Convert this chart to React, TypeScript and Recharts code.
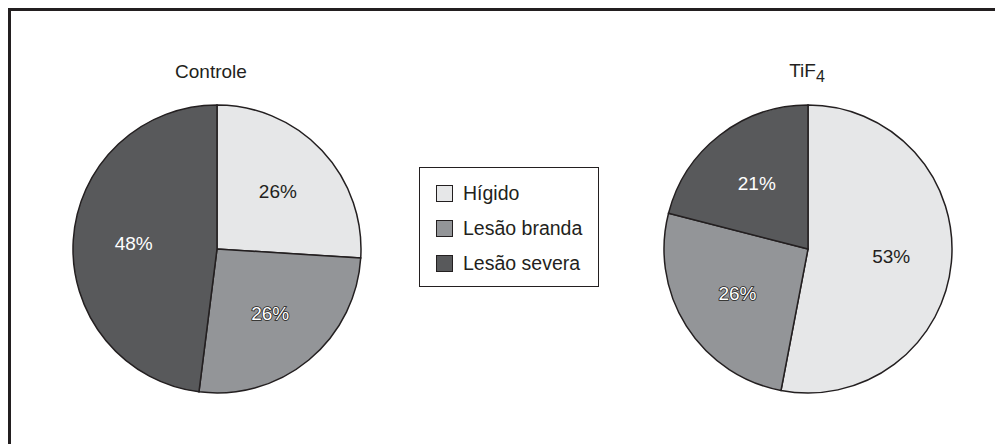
import React from 'react';
import { PieChart, Pie, Cell, Legend, Customized } from 'recharts';

const categories = ['Hígido', 'Lesão branda', 'Lesão severa'];
const controleValues = [26, 26, 48];
const tif4Values = [53, 26, 21];

const sliceColors = ['#e6e7e8', '#939598', '#58595b'];
const ink = '#231f20';
const font = '"Liberation Sans", Arial, Helvetica, sans-serif';

const controleData = categories.map((name, i) => ({ name, value: controleValues[i] }));
const tif4Data = categories.map((name, i) => ({ name, value: tif4Values[i] }));

const RADIAN = Math.PI / 180;

// percentage inside each slice; light slice gets dark text, mid grey gets outlined white
const renderLabel = (props: any) => {
  const { cx, cy, midAngle, outerRadius, value, index } = props;
  const r = outerRadius * 0.58;
  const x = cx + r * Math.cos(-midAngle * RADIAN);
  const y = cy + r * Math.sin(-midAngle * RADIAN);
  const outlined = index === 1;
  return (
    <text
      x={x}
      y={y}
      textAnchor="middle"
      dominantBaseline="central"
      fontFamily={font}
      fontSize={19}
      fill={index === 0 ? ink : '#ffffff'}
      stroke={outlined ? ink : 'none'}
      strokeWidth={outlined ? 1.6 : 0}
      paintOrder="stroke"
    >
      {`${value}%`}
    </text>
  );
};

const Titles = () => (
  <g fontFamily={font} fill={ink}>
    <text x={203} y={70} fontSize={19} textAnchor="middle">Controle</text>
    <text x={799} y={69} fontSize={19} textAnchor="middle">
      TiF<tspan fontSize={16} dy={5}>4</tspan>
    </text>
  </g>
);

const LegendBox = () => (
  <div
    style={{
      position: 'relative',
      width: 180,
      height: 120,
      border: `1.5px solid ${ink}`,
      boxSizing: 'border-box',
      fontFamily: font,
      fontSize: 19.5,
      color: ink,
      background: '#fff',
    }}
  >
    {categories.map((name, i) => (
      <div
        key={name}
        style={{
          position: 'absolute',
          left: 16,
          top: 17 + i * 35,
          height: 17,
          display: 'flex',
          alignItems: 'center',
          whiteSpace: 'nowrap',
        }}
      >
        <span
          style={{
            display: 'inline-block',
            width: 17,
            height: 17,
            boxSizing: 'border-box',
            border: `1.5px solid ${ink}`,
            background: sliceColors[i],
            marginRight: 10,
          }}
        />
        <span>{name}</span>
      </div>
    ))}
  </div>
);

export default function App() {
  return (
    <>
      <style>{`html, body { overflow: hidden; }`}</style>
      <div
        style={{
          position: 'relative',
          width: 995,
          height: 436,
          borderTop: `3px solid ${ink}`,
          borderLeft: `3px solid ${ink}`,
          boxSizing: 'border-box',
          background: '#fff',
        }}
      >
        <div style={{ position: 'absolute', left: -3, top: -3 }}>
          <PieChart width={995} height={436} margin={{ top: 0, right: 0, bottom: 0, left: 0 }}>
            <Pie
              data={controleData}
              dataKey="value"
              nameKey="name"
              cx={209}
              cy={241}
              outerRadius={144}
              startAngle={90}
              endAngle={-270}
              stroke={ink}
              strokeWidth={1.5}
              label={renderLabel}
              labelLine={false}
              isAnimationActive={false}
            >
              {controleData.map((d, i) => (
                <Cell key={d.name} fill={sliceColors[i]} />
              ))}
            </Pie>
            <Pie
              data={tif4Data}
              dataKey="value"
              nameKey="name"
              cx={800}
              cy={241}
              outerRadius={144}
              startAngle={90}
              endAngle={-270}
              stroke={ink}
              strokeWidth={1.5}
              label={renderLabel}
              labelLine={false}
              isAnimationActive={false}
            >
              {tif4Data.map((d, i) => (
                <Cell key={d.name} fill={sliceColors[i]} />
              ))}
            </Pie>
            <Customized component={<Titles />} />
            <Legend
              content={() => <LegendBox />}
              wrapperStyle={{ left: 411, top: 159, width: 180, height: 120, bottom: 'auto' }}
            />
          </PieChart>
        </div>
      </div>
    </>
  );
}
